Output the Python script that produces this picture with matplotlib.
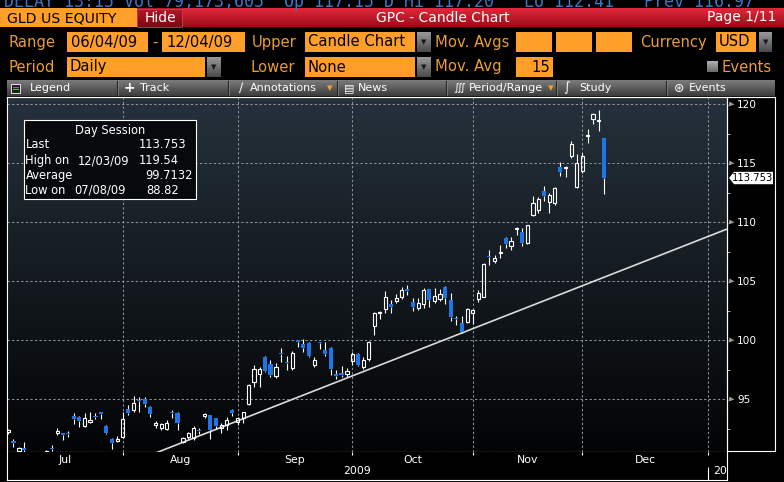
import numpy as np
import pandas as pd
import matplotlib
matplotlib.use('Agg')
import matplotlib.pyplot as plt
import matplotlib.colors as mcolors
import matplotlib.transforms as mtransforms
from matplotlib.patches import Rectangle, Polygon

# ---------------- data ----------------
holidays = ['2009-07-03', '2009-09-07', '2009-11-26']
opens = [92.26, 91.50, 90.65, 90.88, 90.20, 89.60, 89.90, 90.20, 90.88, 92.12,
         92.10, 92.18, 93.59, 93.48, 92.77, 93.11, 93.55, 93.90, 92.74, 91.64,
         91.50, 91.84, 94.15, 94.10, 94.92, 95.00, 94.32, 92.83, 92.54, 92.46,
         93.90, 93.87, 91.41, 91.78, 91.70, 92.37, 93.65, 93.67, 93.39, 92.54,
         92.83, 94.10, 93.11, 93.39, 94.60, 96.49, 97.14, 98.61, 97.99, 96.97,
         98.93, 98.19, 97.62, 99.98, 99.69, 99.80, 97.91, 99.82, 99.18, 99.32,
         97.08, 97.16, 97.14, 98.27, 98.84, 97.71, 98.39, 101.21, 102.29, 102.62,
         103.08, 103.36, 103.64, 104.28, 103.22, 102.71, 103.08, 104.32, 103.36, 103.47,
         104.55, 103.42, 101.88, 101.44, 101.58, 102.29, 103.47, 103.70, 107.12, 106.75,
         107.40, 108.64, 107.99, 109.46, 109.21, 108.22, 110.62, 111.04, 112.65, 111.75,
         111.60, 114.66, 114.63, 115.62, 112.96, 114.37, 117.31, 118.72, 118.58, 117.11]
highs = [92.50, 91.60, 91.00, 91.36, 90.40, 90.20, 90.30, 90.72, 91.10, 92.55,
         92.12, 92.35, 93.82, 93.55, 93.82, 93.96, 93.82, 93.92, 92.80, 91.70,
         91.90, 93.96, 94.52, 95.28, 95.23, 95.23, 94.40, 93.17, 93.02, 93.25,
         94.10, 93.90, 91.80, 92.26, 92.74, 92.54, 93.82, 93.70, 93.45, 92.97,
         93.48, 94.15, 93.53, 93.96, 96.30, 97.91, 97.77, 98.65, 98.33, 98.05,
         99.32, 98.67, 99.09, 100.00, 100.08, 99.85, 98.56, 99.84, 99.88, 99.40,
         97.48, 97.82, 97.62, 99.04, 98.90, 98.56, 99.90, 102.43, 102.51, 104.21,
         103.42, 103.92, 104.55, 104.69, 103.56, 103.56, 104.40, 104.35, 104.40, 104.32,
         104.60, 103.98, 102.06, 102.06, 102.71, 102.62, 104.26, 106.55, 107.65, 107.23,
         108.08, 108.73, 108.73, 109.63, 109.49, 109.80, 112.23, 112.17, 113.08, 112.45,
         112.95, 115.14, 114.77, 116.92, 115.79, 115.84, 117.88, 119.23, 119.54, 117.11]
lows = [92.10, 90.99, 90.40, 90.30, 88.82, 89.30, 89.40, 89.90, 90.65, 91.98,
        91.55, 91.80, 92.88, 92.69, 92.69, 93.02, 93.31, 93.31, 92.06, 90.76,
        91.41, 91.70, 93.67, 93.96, 93.96, 94.38, 93.53, 92.54, 92.40, 92.40,
        93.39, 92.40, 91.27, 91.61, 91.56, 92.06, 93.39, 91.61, 92.46, 92.18,
        92.40, 93.59, 92.83, 93.02, 94.52, 96.07, 96.01, 97.34, 96.92, 96.78,
        98.19, 97.48, 97.48, 99.46, 99.04, 98.61, 97.71, 99.23, 98.67, 97.06,
        96.69, 96.86, 96.92, 97.91, 97.82, 97.60, 98.27, 100.45, 101.78, 102.29,
        102.34, 103.19, 103.47, 103.84, 102.51, 102.57, 102.71, 102.79, 103.19, 103.36,
        103.08, 101.66, 101.30, 100.59, 101.44, 101.38, 103.27, 103.64, 106.38, 106.58,
        106.95, 107.79, 107.65, 108.92, 108.02, 108.13, 110.53, 110.81, 111.83, 110.76,
        111.46, 113.92, 113.87, 115.42, 112.88, 114.20, 116.75, 118.33, 117.76, 112.37]
closes = [92.40, 91.27, 90.85, 90.71, 89.50, 89.90, 89.80, 90.60, 90.82, 92.35,
          92.03, 92.04, 93.31, 93.20, 93.39, 93.25, 93.50, 93.79, 92.18, 91.27,
          91.64, 93.34, 93.82, 94.72, 94.86, 94.60, 93.76, 93.02, 92.91, 93.02,
          93.84, 93.02, 91.70, 92.12, 92.54, 92.33, 93.70, 92.40, 92.74, 92.83,
          93.25, 93.82, 93.39, 93.90, 96.22, 97.54, 97.54, 97.43, 97.06, 97.71,
          98.87, 98.05, 98.95, 99.94, 99.32, 98.67, 98.33, 99.78, 98.84, 97.54,
          97.04, 97.12, 97.43, 98.84, 97.91, 98.33, 99.88, 102.34, 102.43, 103.70,
          102.85, 103.56, 104.26, 104.24, 102.85, 103.19, 104.26, 103.42, 103.75, 103.92,
          103.56, 101.95, 101.84, 100.73, 102.62, 102.57, 103.98, 106.50, 107.06, 106.95,
          107.46, 108.16, 108.42, 109.52, 108.27, 109.77, 111.66, 111.95, 112.23, 112.31,
          112.88, 114.29, 114.69, 116.63, 114.99, 115.62, 117.37, 119.18, 118.64, 113.753]
y_ticks = [95, 100, 105, 110, 115, 120]
month_labels = ['Jul', 'Aug', 'Sep', 'Oct', 'Nov', 'Dec']
year_labels = ['2009', '2010']
trend_x = [27.0, 131.5]      # trading-day positions
trend_y = [90.45, 109.43]
last_price = 113.753
session_title = 'Day Session'
session_labels = ['Last', 'High on', 'Average', 'Low on']
session_dates = ['', '12/03/09', '', '07/08/09']
session_values = ['113.753', '119.54', '99.7132', '88.82']

# ---------------- calendar ----------------
dates = pd.bdate_range('2009-07-01', '2009-12-04')
dates = dates[~dates.isin(pd.to_datetime(holidays))]
future = pd.bdate_range('2009-12-07', '2010-01-08')
all_days = dates.append(future)
xi = np.arange(len(dates))
month_end = []
for m in [7, 8, 9, 10, 11, 12]:
    idx = np.where((all_days.year == 2009) & (all_days.month == m))[0]
    month_end.append(idx[-1])

W, H = 784, 482
FONT = 'DejaVu Sans'
ORANGE = '#ff9f2a'
ORANGE_TXT = '#eb9d35'
BLUE = '#1f74e6'

fig = plt.figure(figsize=(W / 100, H / 100), dpi=100)
fig.patch.set_facecolor('black')

ax_bg = fig.add_axes([0, 0, 1, 1])
ax_bg.set_axis_off()
ax_bg.set_facecolor('black')


def rect(x0, y0, x1, y1, fc, ec='none', lw=0, z=1, target=None):
    a = target if target is not None else ax_bg
    a.add_patch(Rectangle((x0, y0), x1 - x0, y1 - y0, facecolor=fc, edgecolor=ec,
                          linewidth=lw, zorder=z, transform=ax_bg.transData, clip_on=False))


def grad(x0, y0, x1, y1, ctop, cbot, z=0):
    n = 64
    t = np.linspace(0, 1, n)[:, None]
    ct = np.array(mcolors.to_rgb(ctop))
    cb = np.array(mcolors.to_rgb(cbot))
    img = (ct * (1 - t) + cb * t)[:, None, :]
    ax_bg.imshow(img, extent=(x0, x1, y1, y0), origin='upper', aspect='auto',
                 interpolation='bilinear', zorder=z)


def T(x, y, s, color='white', size=10, ha='left', va='center', family=FONT,
      weight='normal', z=5, target=None):
    a = target if target is not None else ax_bg
    a.text(x, y, s, color=color, fontsize=size, ha=ha, va=va, family=family,
           weight=weight, zorder=z, transform=ax_bg.transData, clip_on=False)


def dropdown(x0, y0, x1, y1):
    grad(x0, y0, x1, y1, '#9a9a9a', '#4a4a4a', z=1)
    T((x0 + x1) / 2, (y0 + y1) / 2 + 0.5, '\u25BC', color='#1a1a1a', size=5, ha='center')


# ---- top cut-off status line ----
T(4, 7, 'DELAY 13:15 Vol 79,173,605  Op 117.15 D Hi 117.20   Lo 112.41   Prev 116.97',
  color='#3a78c4', size=12, va='baseline', family='DejaVu Sans Mono')

# ---- title row ----
rect(0, 8, 137, 27, ORANGE, z=1)
T(7, 18, 'GLD US EQUITY', color='black', size=10.2)
grad(137, 8, 183, 27, '#b8182a', '#7a0812', z=1)
rect(137.5, 8.5, 182.5, 26.5, 'none', ec='#d04050', lw=0.6, z=2)
T(160, 17.5, 'Hide', color='white', size=10, ha='center')
grad(183, 8, 784, 27, '#e2283a', '#9a0c18', z=1)
T(443, 17.5, 'GPC - Candle Chart', color='white', size=10, ha='center')
T(707, 17.5, 'Page 1/11', color='white', size=10)

# ---- range row ----
y2a, y2b, y2c = 32, 52, 42
T(8, y2c, 'Range', color=ORANGE_TXT, size=10.6)
rect(67, y2a, 148, y2b, ORANGE)
T(71, y2c, '06/04/09', color='black', size=10.6)
T(155, y2c, '-', color=ORANGE_TXT, size=10.6, ha='center')
rect(162, y2a, 245, y2b, ORANGE)
T(166, y2c, '12/04/09', color='black', size=10.6)
T(252, y2c, 'Upper', color=ORANGE_TXT, size=10.6)
rect(305, y2a, 415, y2b, ORANGE)
T(308, y2c, 'Candle Chart', color='black', size=10.6)
dropdown(417, y2a, 431, y2b)
T(435, y2c, 'Mov. Avgs', color=ORANGE_TXT, size=10.6)
for bx in [(516, 552), (556, 592), (596, 632)]:
    rect(bx[0], y2a, bx[1], y2b, ORANGE)
T(640, y2c, 'Currency', color=ORANGE_TXT, size=10.6)
rect(716, y2a, 756, y2b, ORANGE)
T(719, y2c, 'USD', color='black', size=10.6)
dropdown(759, y2a, 772, y2b)

# ---- period row ----
y3a, y3b, y3c = 57, 77, 67
T(8, y3c, 'Period', color=ORANGE_TXT, size=10.6)
rect(67, y3a, 205, y3b, ORANGE)
T(70, y3c, 'Daily', color='black', size=10.6)
dropdown(207, y3a, 221, y3b)
T(251, y3c, 'Lower', color=ORANGE_TXT, size=10.6)
rect(305, y3a, 415, y3b, ORANGE)
T(308, y3c, 'None', color='black', size=10.6)
dropdown(417, y3a, 431, y3b)
T(435, y3c, 'Mov. Avg', color=ORANGE_TXT, size=10.6)
rect(516, y3a, 553, y3b, ORANGE)
T(550, y3c, '15', color='black', size=10.6, ha='right')
grad(707, 61, 718, 72, '#b0b0b0', '#6a6a6a', z=1)
T(722, y3c, 'Events', color=ORANGE_TXT, size=10.6)

# ---- toolbar ----
grad(7, 80, 775, 96, '#7c7c7c', '#3c3c3c', z=1)
for sx in [117, 228, 337, 446, 556, 666]:
    ax_bg.plot([sx, sx], [81, 95], color='#262626', lw=0.8, zorder=2)
    ax_bg.plot([sx + 1, sx + 1], [81, 95], color='#8a8a8a', lw=0.5, zorder=2)
ty = 88
rect(11, 84, 20, 93, '#202020', ec='white', lw=0.6, z=3)
ax_bg.plot([13, 18], [86.5, 86.5], color='#c040c0', lw=0.8, zorder=4)
ax_bg.plot([13, 18], [89, 89], color='#40c040', lw=0.8, zorder=4)
T(30, ty, 'Legend', size=8)
T(129, ty, '+', size=10, ha='center', weight='bold')
T(140, ty, 'Track', size=8)
T(241, ty, '\u2215', size=9, ha='center')
T(250, ty, 'Annotations', size=8)
T(330, ty, '\u25BE', color=ORANGE, size=8, ha='center')
T(349, ty, '\u25A4', size=8, ha='center')
T(358, ty, 'News', size=8)
T(459, ty, '\u222D', size=8, ha='center')
T(469, ty, 'Period/Range', size=8)
T(551, ty, '\u25BE', color=ORANGE, size=8, ha='center')
T(567, ty, '\u222B', size=9, ha='center')
T(579, ty, 'Study', size=8)
T(679, ty, '\u229B', size=9, ha='center')
T(689, ty, 'Events', size=8)

# ---- plot background and frames ----
grad(7, 97, 727, 452, '#25313b', '#030405', z=0)
rect(727, 97, 775, 451, 'black', ec='white', lw=0.8, z=1)
ax_bg.plot([7, 775], [97, 97], color='white', lw=0.8, zorder=3)

# ---------------- main chart ----------------
x_left = -1 / 5.468
x_right = 719 / 5.468
y_lo = 120 - (452 - 104.3) / 11.8
y_hi = 120 + (104.3 - 97) / 11.8

ax = fig.add_axes([7 / W, (H - 452) / H, 720 / W, 355 / H])
ax.set_facecolor('none')
ax.set_xlim(x_left, x_right)
ax.set_ylim(y_lo, y_hi)
for sp in ax.spines.values():
    sp.set_color('white')
    sp.set_linewidth(0.8)

# grid
for v in y_ticks:
    ax.axhline(v, color='#8a949c', lw=0.75, ls=(0, (2.2, 2.2)), zorder=1)
for m in month_end:
    ax.axvline(m, color='#8a949c', lw=0.75, ls=(0, (2.2, 2.2)), zorder=1)

# trend line
ax.plot(trend_x, trend_y, color='#dadada', lw=1.2, zorder=2.5, solid_capstyle='butt')

o = np.array(opens)
h = np.array(highs)
l = np.array(lows)
c = np.array(closes)
up = c >= o
bhi = np.maximum(o, c)
blo = np.minimum(o, c)
mid = (bhi + blo) / 2
hgt = np.maximum(bhi - blo, 0.13)
btop = mid + hgt / 2
bbot = mid - hgt / 2

ax.vlines(xi, btop, h, color='white', lw=0.8, zorder=3)
ax.vlines(xi, l, bbot, color='white', lw=0.8, zorder=3)
ax.bar(xi[up], hgt[up], bottom=bbot[up], width=0.58, facecolor='none',
       edgecolor='white', linewidth=0.8, zorder=4)
ax.bar(xi[~up], hgt[~up], bottom=bbot[~up], width=0.75, facecolor=BLUE,
       edgecolor='none', linewidth=0, zorder=4)

# y axis on right
ax.set_xticks([])
ax.yaxis.tick_right()
ax.set_yticks(y_ticks)
ax.set_yticklabels([str(v) for v in y_ticks])
ax.set_yticks([v + 2.5 for v in [90] + y_ticks[:-1]], minor=True)
ax.tick_params(axis='y', which='major', length=0, pad=7.3, labelcolor='white',
               labelsize=7.6)
ax.tick_params(axis='y', which='minor', length=2.5, width=0.7, color='#b0b0b0',
               direction='out')
for lab in ax.get_yticklabels():
    lab.set_family(FONT)
tick_tr = mtransforms.offset_copy(
    mtransforms.blended_transform_factory(ax.transAxes, ax.transData),
    fig=fig, x=3.5, y=0, units='dots')
ax.plot([1.0] * len(y_ticks), y_ticks, ls='none', marker='>', ms=3.6,
        color='#9a9a9a', mec='none', transform=tick_tr, clip_on=False, zorder=6)

# last price tag
ppu = 355 / (y_hi - y_lo)
hh = 6.2 / ppu
tag_tr = mtransforms.blended_transform_factory(ax_bg.transData, ax.transData)
ax.add_patch(Polygon([(729, last_price), (734, last_price + hh), (773, last_price + hh),
                      (773, last_price - hh), (734, last_price - hh)], closed=True,
                     facecolor='white', edgecolor='none', transform=tag_tr,
                     clip_on=False, zorder=7))
ax.text(753, last_price, f'{last_price:.3f}', color='black', fontsize=7.2,
        ha='center', va='center', family=FONT, transform=tag_tr, zorder=8, clip_on=False)

# session legend box
rect(24, 120, 196, 199, '#07090b', ec='white', lw=0.8, z=9, target=ax)
T(110, 130.5, session_title, size=8.3, ha='center', z=10, target=ax)
row_y = [145, 160.5, 175.5, 190]
val_x = [139, 139, 145.5, 146]
date_x = [0, 78, 0, 74]
for i in range(4):
    T(25.5, row_y[i], session_labels[i], size=8.3, z=10, target=ax)
    if session_dates[i]:
        T(date_x[i], row_y[i], session_dates[i], size=8.3, z=10, target=ax)
    T(val_x[i], row_y[i], session_values[i], size=8.3, z=10, target=ax)

# ---------------- date bar ----------------
ax_d = fig.add_axes([7 / W, (H - 480) / H, 720 / W, 28 / H])
ax_d.set_facecolor('black')
ax_d.set_xlim(x_left, x_right)
ax_d.set_ylim(28, 0)
ax_d.set_xticks([])
ax_d.set_yticks([])
for k, sp in ax_d.spines.items():
    sp.set_color('white')
    sp.set_linewidth(0.8)
ax_d.spines['top'].set_visible(False)
bounds = [x_left] + month_end
for i, lab in enumerate(month_labels):
    ax_d.text((bounds[i] + bounds[i + 1]) / 2, 7.8, lab, color='white', fontsize=7.8,
              ha='center', va='center', family=FONT, clip_on=True)
ax_d.vlines(month_end, 0, 3, color='white', lw=0.8)
ax_d.vlines([month_end[-1]], 15, 28, color='white', lw=0.8)
ax_d.text((x_left + month_end[-1]) / 2, 19.5, year_labels[0], color='white',
          fontsize=7.8, ha='center', va='center', family=FONT, clip_on=True)
ax_d.text(month_end[-1] + 0.9, 19.5, year_labels[1], color='white', fontsize=7.8,
          ha='left', va='center', family=FONT, clip_on=True)

ax_bg.set_xlim(0, W)
ax_bg.set_ylim(H, 0)

fig.savefig('out.png', dpi=100, facecolor=fig.get_facecolor())
